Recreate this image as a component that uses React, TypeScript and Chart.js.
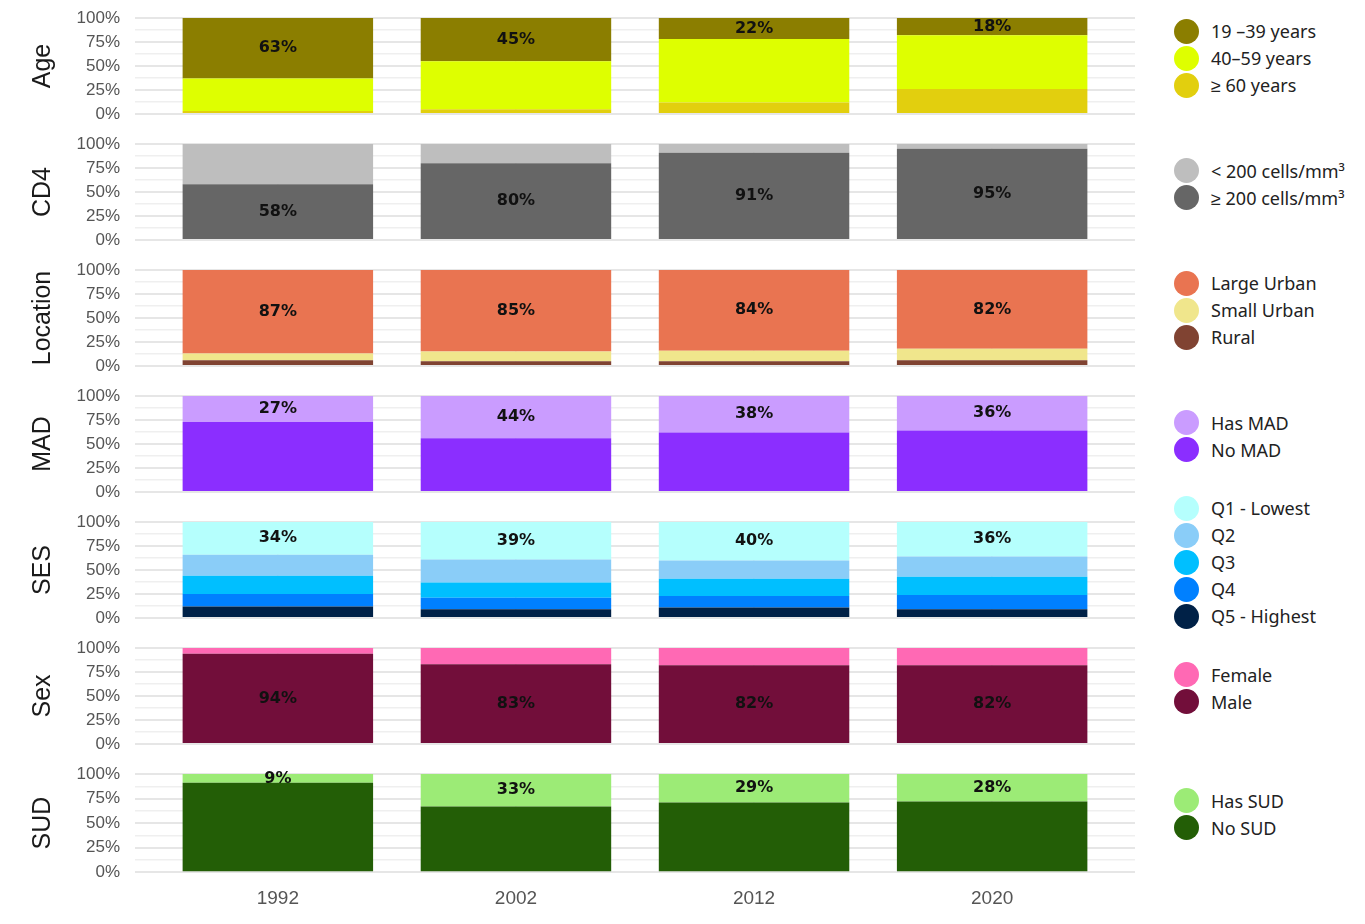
import React, { useEffect, useRef } from "react";
import { Chart, registerables, Plugin } from "chart.js";

Chart.register(...registerables);

const years = ["1992", "2002", "2012", "2020"];

// Age
const age60plus = [3, 5, 12, 26];
const age40to59 = [34, 50, 66, 56];
const age19to39 = [63, 45, 22, 18];
// CD4
const cd4High = [58, 80, 91, 95];
const cd4Low = [42, 20, 9, 5];
// Location
const locRural = [6, 5, 5, 6];
const locSmallUrban = [7, 10, 11, 12];
const locLargeUrban = [87, 85, 84, 82];
// MAD
const madNo = [73, 56, 62, 64];
const madHas = [27, 44, 38, 36];
// SES
const sesQ5 = [12, 9, 11, 9];
const sesQ4 = [13, 12, 12, 15];
const sesQ3 = [19, 16, 18, 19];
const sesQ2 = [22, 24, 19, 21];
const sesQ1 = [34, 39, 40, 36];
// Sex
const sexMale = [94, 83, 82, 82];
const sexFemale = [6, 17, 18, 18];
// SUD
const sudNo = [91, 67, 71, 72];
const sudHas = [9, 33, 29, 28];

const yTicks = [0, 25, 50, 75, 100];

interface Series {
  label: string;
  data: number[];
  color: string;
}

interface Panel {
  title: string;
  series: Series[]; // bottom of the stack first
  labelled: number; // which series gets the % text
}

const panels: Panel[] = [
  {
    title: "Age",
    series: [
      { label: "≥ 60 years", data: age60plus, color: "#E2CF0E" },
      { label: "40–59 years", data: age40to59, color: "#DEFF00" },
      { label: "19 –39 years", data: age19to39, color: "#8B7E00" },
    ],
    labelled: 2,
  },
  {
    title: "CD4",
    series: [
      { label: "≥ 200 cells/mm³", data: cd4High, color: "#666666" },
      { label: "< 200 cells/mm³", data: cd4Low, color: "#BEBEBE" },
    ],
    labelled: 0,
  },
  {
    title: "Location",
    series: [
      { label: "Rural", data: locRural, color: "#804332" },
      { label: "Small Urban", data: locSmallUrban, color: "#F0E68C" },
      { label: "Large Urban", data: locLargeUrban, color: "#E97451" },
    ],
    labelled: 2,
  },
  {
    title: "MAD",
    series: [
      { label: "No MAD", data: madNo, color: "#8B2EFF" },
      { label: "Has MAD", data: madHas, color: "#CA9CFF" },
    ],
    labelled: 1,
  },
  {
    title: "SES",
    series: [
      { label: "Q5 - Highest", data: sesQ5, color: "#002147" },
      { label: "Q4", data: sesQ4, color: "#0080FF" },
      { label: "Q3", data: sesQ3, color: "#00BFFF" },
      { label: "Q2", data: sesQ2, color: "#8ACDF8" },
      { label: "Q1 - Lowest", data: sesQ1, color: "#B5FFFD" },
    ],
    labelled: 4,
  },
  {
    title: "Sex",
    series: [
      { label: "Male", data: sexMale, color: "#720E3A" },
      { label: "Female", data: sexFemale, color: "#FF69B4" },
    ],
    labelled: 0,
  },
  {
    title: "SUD",
    series: [
      { label: "No SUD", data: sudNo, color: "#235E06" },
      { label: "Has SUD", data: sudHas, color: "#9CEB76" },
    ],
    labelled: 1,
  },
];

const ROW_H = 126;
const LAST_H = 169;
const CHART_W = 1150;

const barLabels: Plugin<"bar"> = {
  id: "barLabels",
  afterDatasetsDraw(chart, _args, opts: any) {
    const idx = opts.dataset as number;
    const meta = chart.getDatasetMeta(idx);
    const values = chart.data.datasets[idx].data as any[];
    const ctx = chart.ctx;
    ctx.save();
    ctx.font = "bold 16px 'DejaVu Sans'";
    ctx.fillStyle = "#111";
    ctx.textAlign = "center";
    ctx.textBaseline = "middle";
    meta.data.forEach((bar: any, i) => {
      const y = (bar.y + bar.base) / 2;
      ctx.fillText(`${values[i].y}%`, bar.x, y);
    });
    ctx.restore();
  },
};

const PanelChart: React.FC<{ panel: Panel; last: boolean }> = ({ panel, last }) => {
  const canvasRef = useRef<HTMLCanvasElement>(null);

  useEffect(() => {
    if (!canvasRef.current) return;
    const chart = new Chart(canvasRef.current, {
      type: "bar",
      data: {
        datasets: panel.series.map((s) => ({
          label: s.label,
          data: s.data.map((v, i) => ({ x: i + 1, y: v })),
          backgroundColor: s.color,
          borderWidth: 0,
          categoryPercentage: 1,
          barPercentage: 0.8,
        })),
      },
      options: {
        responsive: false,
        animation: false,
        layout: { padding: { top: 18, bottom: last ? 0 : 12, right: 15, left: 0 } },
        scales: {
          x: {
            type: "linear",
            stacked: true,
            offset: false,
            min: 0.4,
            max: 4.6,
            afterBuildTicks: (scale) => {
              scale.ticks = years.map((_, i) => ({ value: i + 1 }));
            },
            ticks: {
              display: last,
              padding: 15,
              color: "#555",
              font: { family: "'Liberation Sans', Arial, sans-serif", size: 19 },
              callback: (v) => years[Number(v) - 1] ?? "",
            },
            grid: { offset: false, color: "#ececec", lineWidth: 1.5, drawTicks: false },
            border: { display: false },
          },
          y: {
            stacked: true,
            min: 0,
            max: 100,
            afterBuildTicks: (scale) => {
              const t: { value: number }[] = [];
              for (let v = 0; v <= 100; v += 12.5) t.push({ value: v });
              scale.ticks = t;
            },
            afterFit: (scale) => {
              scale.width = 135;
            },
            ticks: {
              autoSkip: false,
              padding: 0,
              color: "#555",
              font: { family: "'Liberation Sans', Arial, sans-serif", size: 17 },
              callback: (v) => (yTicks.includes(Number(v)) ? `${v}%` : ""),
            },
            grid: {
              drawTicks: true,
              tickLength: 15,
              tickColor: "rgba(0,0,0,0)",
              color: (c) => (yTicks.includes(c.tick.value) ? "#e6e6e6" : "#efefef"),
              lineWidth: (c) => (yTicks.includes(c.tick.value) ? 2 : 1.5),
            },
            border: { display: false },
            title: {
              display: true,
              text: panel.title,
              color: "#1a1a1a",
              font: { family: "'Liberation Sans', Arial, sans-serif", size: 25 },
              padding: { top: 28, bottom: 0 },
            },
          },
        },
        plugins: {
          legend: { display: false },
          tooltip: { enabled: false },
          barLabels: { dataset: panel.labelled },
        } as any,
      },
      plugins: [barLabels],
    });
    return () => chart.destroy();
  }, [panel, last]);

  const h = last ? LAST_H : ROW_H;
  const legendItems = [...panel.series].reverse();

  return (
    <div style={{ position: "relative", width: 1365, height: h }}>
      <canvas ref={canvasRef} width={CHART_W} height={h} style={{ width: CHART_W, height: h, display: "block" }} />
      <div
        style={{
          position: "absolute",
          left: CHART_W,
          top: -5,
          height: ROW_H,
          display: "flex",
          flexDirection: "column",
          justifyContent: "center",
        }}
      >
        {legendItems.map((s) => (
          <div key={s.label} style={{ display: "flex", alignItems: "center", height: 27, flexShrink: 0 }}>
            <span
              style={{
                display: "inline-block",
                width: 25,
                height: 25,
                borderRadius: "50%",
                background: s.color,
                marginLeft: 24,
                marginRight: 12,
                flexShrink: 0,
              }}
            />
            <span style={{ fontFamily: "'Noto Sans', sans-serif", fontSize: 18, color: "#222", whiteSpace: "nowrap" }}>
              {s.label}
            </span>
          </div>
        ))}
      </div>
    </div>
  );
};

const App: React.FC = () => {
  useEffect(() => {
    document.body.style.margin = "0";
  }, []);
  return (
    <div style={{ width: 1365, height: 924, overflow: "hidden", background: "#fff" }}>
      {panels.map((p, i) => (
        <PanelChart key={p.title} panel={p} last={i === panels.length - 1} />
      ))}
    </div>
  );
};

export default App;
